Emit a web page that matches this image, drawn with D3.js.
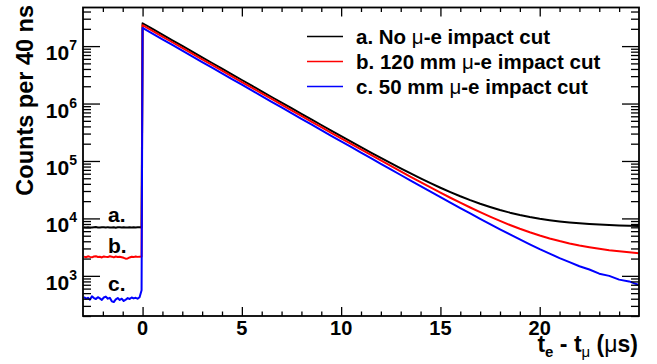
<!DOCTYPE html>
<html>
<head>
<meta charset="utf-8">
<script src="https://cdn.jsdelivr.net/npm/d3@7"></script>
<style>
  body { margin: 0; background: #fff; }
  svg { display: block; font-family: "Liberation Sans", Arial, Helvetica, sans-serif; font-weight: bold; }
</style>
</head>
<body>
<div id="content"></div>
<script>
// time bins before the muon stop (us)
const preTimes = [-2.95, -2.85, -2.75, -2.65, -2.55, -2.45, -2.35, -2.25, -2.15, -2.05,
  -1.95, -1.85, -1.75, -1.65, -1.55, -1.45, -1.35, -1.25, -1.15, -1.05,
  -0.95, -0.85, -0.75, -0.65, -0.55, -0.45, -0.35, -0.25, -0.15, -0.05];
const preNoCut = [7010, 6950, 7040, 6980, 6920, 7000, 7060, 6970, 6940, 7020,
  6990, 6930, 7050, 6980, 6960, 7030, 6900, 6990, 7010, 6950,
  7040, 6970, 6920, 7000, 6980, 7030, 6950, 6990, 7010, 6970];
const preCut120 = [2160, 2110, 2190, 2140, 2100, 2170, 2200, 2130, 2150, 2090,
  2180, 2140, 2120, 2190, 2160, 2100, 2170, 2130, 2150, 2110,
  2060, 1990, 2010, 2090, 2150, 2120, 2170, 2140, 2160, 2180];
const preCut50 = [430, 400, 415, 385, 440, 410, 395, 425, 405, 380,
  420, 435, 400, 415, 360, 350, 390, 410, 380, 400,
  365, 385, 410, 395, 420, 405, 415, 400, 425, 560];

// time bins after the muon stop (us)
const postTimes = [0, 0.5, 1, 1.5, 2, 2.5, 3, 3.5, 4, 4.5, 5, 5.5, 6, 6.5, 7, 7.5, 8, 8.5, 9, 9.5,
  10, 10.5, 11, 11.5, 12, 12.5, 13, 13.5, 14, 14.5, 15, 15.5, 16, 16.5, 17, 17.5, 18, 18.5, 19, 19.5,
  20, 20.5, 21, 21.5, 22, 22.5, 23, 23.5, 24, 24.5, 25];
const postNoCut = [2.5e7, 1.99e7, 1.586e7, 1.263e7, 1.006e7, 8.01e6, 6.38e6, 5.08e6, 4.05e6, 3.23e6,
  2.57e6, 2.05e6, 1.63e6, 1.30e6, 1.04e6, 8.30e5, 6.63e5, 5.29e5, 4.23e5, 3.38e5,
  2.71e5, 2.17e5, 1.745e5, 1.404e5, 1.133e5, 9.17e4, 7.44e4, 6.07e4, 4.98e4, 4.11e4,
  3.42e4, 2.87e4, 2.43e4, 2.08e4, 1.80e4, 1.58e4, 1.40e4, 1.26e4, 1.149e4, 1.06e4,
  9880, 9320, 8870, 8510, 8220, 7990, 7810, 7670, 7550, 7460, 7390];
const postCut120 = [2.31e7, 1.84e7, 1.465e7, 1.167e7, 9.30e6, 7.40e6, 5.90e6, 4.70e6, 3.74e6, 2.98e6,
  2.37e6, 1.89e6, 1.505e6, 1.20e6, 9.57e5, 7.63e5, 6.08e5, 4.85e5, 3.87e5, 3.08e5,
  2.485e5, 1.986e5, 1.589e5, 1.272e5, 1.021e5, 8.19e4, 6.58e4, 5.30e4, 4.28e4, 3.46e4,
  2.81e4, 2.29e4, 1.88e4, 1.549e4, 1.285e4, 1.073e4, 9040, 7690, 6600, 5730,
  5040, 4480, 4030, 3670, 3380, 3150, 2960, 2800, 2680, 2570, 2470];
const postCut50 = [2.07e7, 1.649e7, 1.313e7, 1.046e7, 8.33e6, 6.63e6, 5.28e6, 4.21e6, 3.35e6, 2.67e6,
  2.13e6, 1.694e6, 1.349e6, 1.074e6, 8.56e5, 6.81e5, 5.43e5, 4.32e5, 3.44e5, 2.74e5,
  2.204e5, 1.759e5, 1.403e5, 1.120e5, 8.94e4, 7.14e4, 5.70e4, 4.56e4, 3.65e4, 2.92e4,
  2.34e4, 1.88e4, 1.512e4, 1.219e4, 9830, 7960, 6460, 5260, 4300, 3540,
  2920, 2440, 2040, 1730, 1470, 1290, 1090, 1000, 860, 800, 690];

const seriesNames = ["a. No ", "b. 120 mm ", "c. 50 mm "];
const seriesColors = ["#000000", "#ff0000", "#0000ff"];
const xMajor = [0, 5, 10, 15, 20];
const yMajor = [1e3, 1e4, 1e5, 1e6, 1e7];
const yExp = ["3", "4", "5", "6", "7"];

window.addEventListener('load', function () {
    let width = 657, height = 364;
    let left = 83, right = 639, top = 7.5, bottom = 316;

    let svg = d3.select('#content').append('svg').attr('width', width).attr('height', height);

    let xScale = d3.scaleLinear().domain([-3, 25]).range([left, right]);
    let yScale = d3.scaleLog().domain([200, 4.7e7]).range([bottom, top]);

    let series = [
        preTimes.map((t, i) => [t, preNoCut[i]]).concat(postTimes.map((t, i) => [t, postNoCut[i]])),
        preTimes.map((t, i) => [t, preCut120[i]]).concat(postTimes.map((t, i) => [t, postCut120[i]])),
        preTimes.map((t, i) => [t, preCut50[i]]).concat(postTimes.map((t, i) => [t, postCut50[i]]))
    ];

    let line = d3.line().x(d => xScale(d[0])).y(d => yScale(d[1]));

    svg.append('defs').append('clipPath').attr('id', 'clip')
        .append('rect').attr('x', left).attr('y', top).attr('width', right - left).attr('height', bottom - top);

    svg.append('g').attr('clip-path', 'url(#clip)')
        .selectAll('path').data(series).enter().append('path')
        .attr('d', line)
        .attr('fill', 'none')
        .attr('stroke', (d, i) => seriesColors[i])
        .attr('stroke-width', 2)
        .attr('stroke-linejoin', 'round');

    // ticks
    let xMinor = d3.range(-3, 26).filter(v => xMajor.indexOf(v) < 0 && v > -3 && v < 25);
    let yMinor = yScale.ticks().filter(v => yMajor.indexOf(v) < 0);

    function addAxis(axis, tr) {
        let g = svg.append('g').attr('transform', tr).call(axis);
        g.select('.domain').remove();
        g.selectAll('.tick line').attr('stroke', '#000').attr('stroke-width', 1.3);
        g.selectAll('text').remove();
    }
    addAxis(d3.axisBottom(xScale).tickValues(xMajor).tickSize(-9), `translate(0,${bottom})`);
    addAxis(d3.axisBottom(xScale).tickValues(xMinor).tickSize(-4.5), `translate(0,${bottom})`);
    addAxis(d3.axisTop(xScale).tickValues(xMajor).tickSize(-9), `translate(0,${top})`);
    addAxis(d3.axisTop(xScale).tickValues(xMinor).tickSize(-4.5), `translate(0,${top})`);
    addAxis(d3.axisLeft(yScale).tickValues(yMajor).tickSize(-17), `translate(${left},0)`);
    addAxis(d3.axisLeft(yScale).tickValues(yMinor).tickSize(-8), `translate(${left},0)`);
    addAxis(d3.axisRight(yScale).tickValues(yMajor).tickSize(-17), `translate(${right},0)`);
    addAxis(d3.axisRight(yScale).tickValues(yMinor).tickSize(-8), `translate(${right},0)`);

    // frame
    svg.append('rect').attr('x', left).attr('y', top).attr('width', right - left).attr('height', bottom - top)
        .attr('fill', 'none').attr('stroke', '#000').attr('stroke-width', 1.8);

    // x tick labels
    svg.selectAll('.xlab').data(xMajor).enter().append('text')
        .attr('x', d => xScale(d)).attr('y', 335)
        .attr('text-anchor', 'middle').style('font-size', '20px')
        .text(d => d);

    // y tick labels 10^n
    let ylab = svg.selectAll('.ylab').data(yMajor).enter().append('text')
        .attr('x', 77).attr('y', d => yScale(d) + 14)
        .attr('text-anchor', 'end').style('font-size', '21px');
    ylab.append('tspan').text('10');
    ylab.append('tspan').attr('dy', -10).style('font-size', '14px').text((d, i) => yExp[i]);

    // axis titles
    svg.append('text').attr('transform', 'translate(33,5) rotate(-90)')
        .attr('text-anchor', 'end').style('font-size', '23.5px').text('Counts per 40 ns');

    let xt = svg.append('text').attr('x', 638).attr('y', 352).attr('text-anchor', 'end').style('font-size', '23px');
    xt.append('tspan').text('t');
    xt.append('tspan').attr('dy', 5).style('font-size', '15px').text('e');
    xt.append('tspan').attr('dy', -5).text(' - t');
    xt.append('tspan').attr('dy', 5).style('font-size', '15px').style('font-weight', 'normal').text('\u03bc');
    xt.append('tspan').attr('dy', -5).text(' (');
    xt.append('tspan').style('font-weight', 'normal').text('\u03bc');
    xt.append('tspan').text('s)');

    // legend
    let leg = svg.selectAll('.leg').data(seriesNames).enter().append('g')
        .attr('transform', (d, i) => `translate(0,${36.5 + i * 25})`);
    leg.append('line').attr('x1', 307).attr('x2', 343).attr('y1', 0).attr('y2', 0)
        .attr('stroke', (d, i) => seriesColors[i]).attr('stroke-width', 1.6);
    let lt = leg.append('text').attr('x', 356).attr('y', 7).style('font-size', '20.5px');
    lt.append('tspan').text(d => d);
    lt.append('tspan').style('font-weight', 'normal').text('\u03bc');
    lt.append('tspan').text('-e impact cut');

    // curve tags
    let tags = [['a.', 222], ['b.', 253], ['c.', 291]];
    svg.selectAll('.tag').data(tags).enter().append('text')
        .attr('x', 108).attr('y', d => d[1]).style('font-size', '21px').text(d => d[0]);
});
</script>
</body>
</html>
